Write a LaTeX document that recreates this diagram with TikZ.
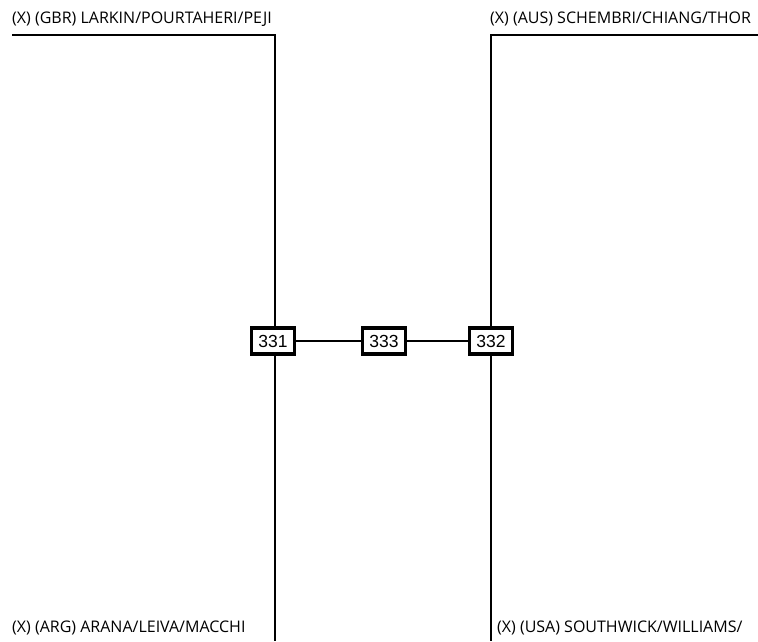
\documentclass[tikz,border=0pt]{standalone}
\usepackage{fontspec}
\setmainfont{Open Sans}
\newfontfamily\boxfont{Liberation Sans}
\usetikzlibrary{positioning}

\begin{document}
\begin{tikzpicture}[x=1pt, y=-1pt]
    \tikzset{
        matchbox/.style = {rectangle, line width=3.2pt, minimum width=43pt, minimum height=26pt, inner sep=2pt, text centered, draw=black, fill=white, font=\boxfont\fontsize{17.5}{18}\selectfont},
        team/.style = {anchor=west, inner sep=0pt, font=\fontsize{16}{17}\selectfont},
        bracket/.style = {line width=1.8pt},
        link/.style = {line width=1.3pt},
    }
    \useasboundingbox (0,0) rectangle (758,641);

    % teams
    \node (gbr) [team] at (12,19) {(X) (GBR) LARKIN/POURTAHERI/PEJI};
    \node (aus) [team] at (490,19) {(X) (AUS) SCHEMBRI/CHIANG/THOR};
    \node (arg) [team] at (12,628) {(X) (ARG) ARANA/LEIVA/MACCHI};
    \node (usa) [team] at (497,628) {(X) (USA) SOUTHWICK/WILLIAMS/};

    % matches
    \node (m331) [matchbox] at (273,341) {331};
    \node (m333) [matchbox] at (384,341) {333};
    \node (m332) [matchbox] at (491,341) {332};

    \coordinate (gbr_end) at (12,35);
    \coordinate (gbr_turn) at (275,35);
    \coordinate (aus_end) at (758,35);
    \coordinate (aus_turn) at (491,35);
    \coordinate (arg_end) at (275,641);
    \coordinate (usa_end) at (491,641);

    \draw [bracket] (gbr_end) -- (gbr_turn) -- (m331.north -| gbr_turn);
    \draw [bracket] (aus_end) -- (aus_turn) -- (m332.north -| aus_turn);
    \draw [bracket] (m331.south -| arg_end) -- (arg_end);
    \draw [bracket] (m332.south -| usa_end) -- (usa_end);

    \draw [link] (m331) -- (m333);
    \draw [link] (m333) -- (m332);
\end{tikzpicture}
\end{document}
